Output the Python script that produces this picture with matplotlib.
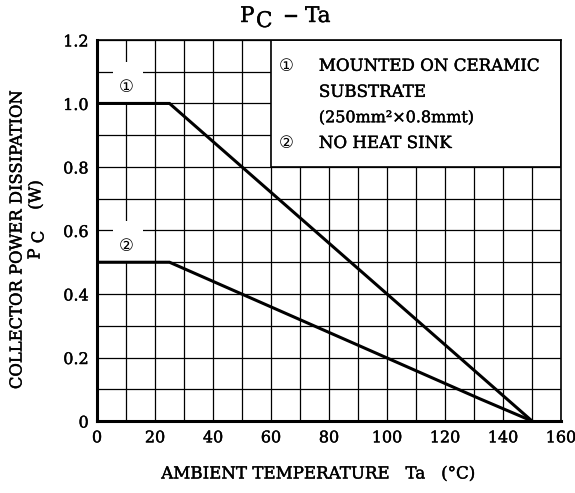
import numpy as np
import matplotlib.pyplot as plt
import matplotlib.patheffects as pe
from matplotlib.patches import Rectangle
from matplotlib.text import Text

# curve data (Ta in degC, Pc in W)
ta_1 = [0, 25, 150]
pc_1 = [1.0, 1.0, 0.0]
ta_2 = [0, 25, 132, 150]
pc_2 = [0.5, 0.5, 0.07, 0.0]

x_ticks = [0, 20, 40, 60, 80, 100, 120, 140, 160]
y_ticks = [0, 0.2, 0.4, 0.6, 0.8, 1.0, 1.2]
y_tick_labels = ['0', '0.2', '0.4', '0.6', '0.8', '1.0', '1.2']

legend_lines = ['MOUNTED ON CERAMIC', 'SUBSTRATE', '(250mm\u00b2\u00d70.8mmt)', 'NO HEAT SINK']

plt.rcParams['font.family'] = ['DejaVu Serif', 'DejaVu Sans']

W, H = 575, 493

fig = plt.figure(figsize=(5.75, 4.93), dpi=100)
ax = fig.add_axes([0.1687, 0.146, 0.807, 0.773])

ax.set_xlim(0, 160)
ax.set_ylim(0, 1.2)
ax.set_xticks(x_ticks)
ax.set_yticks(y_ticks)
ax.set_yticklabels(y_tick_labels)
ax.set_xticks(np.arange(0, 161, 10), minor=True)
ax.set_yticks(np.arange(0, 1.21, 0.1), minor=True)
ax.tick_params(which='both', length=0, labelsize=11.5, pad=6)
ax.grid(which='both', color='black', linewidth=0.9, zorder=1)
ax.set_axisbelow(True)

for side in ['top', 'right']:
    ax.spines[side].set_linewidth(1.2)
for side in ['left', 'bottom']:
    ax.spines[side].set_linewidth(2.2)

# white boxes behind the curve numbers and the note
ax.add_patch(Rectangle((60, 0.8), 100, 0.4, facecolor='white', edgecolor='black',
                       linewidth=1.2, zorder=2))
ax.add_patch(Rectangle((5.5, 1.005), 10.5, 0.125, facecolor='white', edgecolor='none', zorder=2))
ax.add_patch(Rectangle((5.5, 0.505), 10.5, 0.125, facecolor='white', edgecolor='none', zorder=2))

ax.plot(ta_1, pc_1, color='black', linewidth=2.2, zorder=3, solid_joinstyle='miter')
ax.plot(ta_2, pc_2, color='black', linewidth=2.2, zorder=3, solid_joinstyle='miter')

# the original lettering is a bit heavier than DejaVu Serif
heavy = [pe.withStroke(linewidth=0.3, foreground='black')]

circled = [
    ax.text(10, 1.05, '\u2460', ha='center', va='center', fontsize=12, zorder=4),
    ax.text(10, 0.55, '\u2461', ha='center', va='center', fontsize=12, zorder=4),
    ax.text(65.3, 1.117, '\u2460', ha='center', va='center', fontsize=12, zorder=4),
    ax.text(65.3, 0.874, '\u2461', ha='center', va='center', fontsize=12, zorder=4),
]

# note text
ax.text(76.5, 1.117, legend_lines[0], ha='left', va='center', fontsize=12, zorder=4)
ax.text(76.5, 1.035, legend_lines[1], ha='left', va='center', fontsize=12, zorder=4)
ax.text(76.5, 0.955, legend_lines[2], ha='left', va='center', fontsize=11.5, zorder=4)
ax.text(76.5, 0.874, legend_lines[3], ha='left', va='center', fontsize=12, zorder=4)

# title "PC - Ta" with the C lowered
fig.text(240 / W, 1 - 16 / H, 'P', fontsize=15.5, ha='left', va='center')
fig.text(256 / W, 1 - 21 / H, 'C', fontsize=15.5, ha='left', va='center')
fig.text(283 / W, 1 - 17 / H, '\u2212', fontsize=14, ha='left', va='center')
fig.text(305 / W, 1 - 16 / H, 'Ta', fontsize=15.5, ha='left', va='center')

fig.text(318 / W, 1 - 474 / H, 'AMBIENT TEMPERATURE   Ta   (\u00b0C)',
         fontsize=12, ha='center', va='center')

fig.text(17 / W, 1 - 240 / H, 'COLLECTOR POWER DISSIPATION', rotation=90,
         fontsize=11.8, ha='center', va='center')
fig.text(35 / W, 1 - 254 / H, 'P', rotation=90, fontsize=11.8, ha='center', va='center')
fig.text(39 / W, 1 - 237 / H, 'C', rotation=90, fontsize=11.8, ha='center', va='center')
fig.text(36 / W, 1 - 195 / H, '(W)', rotation=90, fontsize=11.8, ha='center', va='center')

for t in fig.findobj(Text):
    if t not in circled:
        t.set_path_effects(heavy)

fig.savefig('out.png', dpi=100)
